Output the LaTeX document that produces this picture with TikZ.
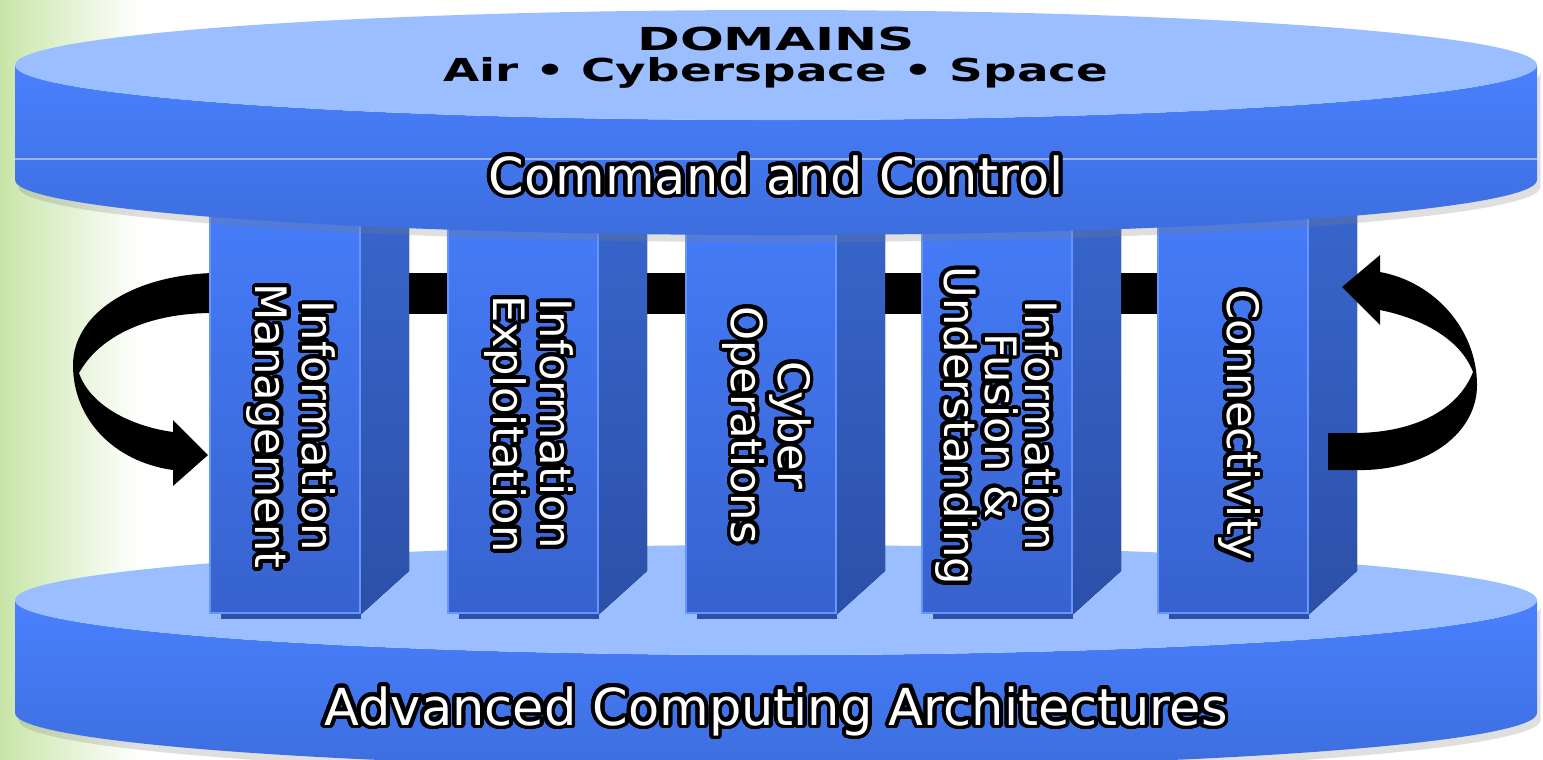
\documentclass[tikz,border=0pt]{standalone}
\usepackage{graphicx}
\usepackage{fontspec}
\setmainfont{DejaVu Sans}
\newfontfamily\domfont{DejaVu Sans}
\usepackage[copies]{contour}
\contourlength{1.1pt}
\contournumber{32}
\usetikzlibrary{positioning, shadows}

\definecolor{diskTop}{RGB}{154,190,255}
\definecolor{diskSideA}{RGB}{74,128,255}
\definecolor{diskSideB}{RGB}{60,110,222}
\definecolor{pillarA}{RGB}{70,125,250}
\definecolor{pillarB}{RGB}{55,98,206}
\definecolor{pillarSideA}{RGB}{56,102,205}
\definecolor{pillarSideB}{RGB}{44,80,168}
\definecolor{pillarEdge}{RGB}{100,150,255}
\definecolor{leafGreen}{RGB}{200,229,168}

\newcommand{\outl}[1]{\contour{black}{#1}}

\tikzset{
  pillar/.style = {rectangle, minimum width=1.5cm, minimum height=4.13cm, inner sep=0pt,
    top color=pillarA, bottom color=pillarB, draw=pillarEdge, line width=0.6pt},
  pillarside/.style = {top color=pillarSideA, bottom color=pillarSideB},
  pillartext/.style = {rotate=-90, align=center, text=white, inner sep=0pt,
    font=\fontsize{12.3}{13.1}\selectfont},
  disktitle/.style = {text=white, inner sep=0pt, font=\fontsize{14.5}{16}\selectfont},
  domaintext/.style = {text=black, inner sep=0pt, font=\domfont\bfseries\fontsize{9}{10}\selectfont},
  diskside/.style = {top color=diskSideA, bottom color=diskSideB,
    drop shadow={opacity=0.25, shadow xshift=1pt, shadow yshift=-2pt}},
  ring/.style = {fill=black}
}

\begin{document}
\begin{tikzpicture}[x=0.01cm, y=-0.01cm]
\useasboundingbox (0,0) rectangle (1543,759);
\shade[left color=leafGreen, right color=white] (0,0) rectangle (140,759);

% base disk
\path[diskside] (15,600) -- (15,713) arc[start angle=180, end angle=0, x radius=761, y radius=55]
  -- (1537,600) arc[start angle=0, end angle=180, x radius=761, y radius=55] -- cycle;
\fill[diskTop] (776,600) ellipse[x radius=761, y radius=55];

% ring behind the pillars
\fill[ring] (210,273) rectangle (1340,314);
\fill[ring] (212,273) .. controls (130,276) and (73,315) .. (73,365)
  .. controls (73,420) and (115,462) .. (173,470) -- (173,486) -- (208,455) -- (173,420)
  -- (173,432) .. controls (130,426) and (90,405) .. (79,373)
  .. controls (100,335) and (150,313) .. (212,313) -- cycle;

% pillars
\foreach \px/\name in {285/pIM, 523/pIE, 761/pCO, 997/pIF, 1233/pCN} {
  \node[pillar] (\name) at (\px,406.5) {};
  \fill[pillarside] (\name.north east) -- ++(48,0) -- ++(0,372) -- (\name.south east) -- cycle;
  \fill[pillarSideB] (\name.south west) ++(12,0) rectangle ++(140,5);
}

\node[pillartext] (tIM) at (289,426) {\outl{Information}\\\outl{Management}};
\node[pillartext] (tIE) at (527,424) {\outl{Information}\\\outl{Exploitation}};
\node[pillartext] (tCO) at (765,425) {\outl{Cyber}\\\outl{Operations}};
\node[pillartext, font=\fontsize{12.3}{10.6}\selectfont] (tIF) at (995,426)
  {\outl{Information}\\\outl{Fusion \&}\\\outl{Understanding}};
\node[pillartext] (tCN) at (1237,425) {\outl{Connectivity}};

% ring in front
\fill[ring] (1328,470) -- (1365,470) .. controls (1430,468) and (1477,432) .. (1477,385)
  .. controls (1477,330) and (1435,282) .. (1380,272) -- (1380,255) -- (1342,287) -- (1380,325)
  -- (1380,310) .. controls (1420,318) and (1460,338) .. (1473,372)
  .. controls (1458,410) and (1415,432) .. (1357,433) -- (1328,433) -- cycle;

% top disk
\path[diskside] (15,65) -- (15,180) arc[start angle=180, end angle=0, x radius=761, y radius=55]
  -- (1537,65) arc[start angle=0, end angle=180, x radius=761, y radius=55] -- cycle;
\draw[white, opacity=0.45, line width=0.4pt] (15,159) -- (1537,159);
\fill[diskTop] (776,65) ellipse[x radius=761, y radius=55];

\node[domaintext, anchor=base] (dom) at (776,50) {\scalebox{1.63}[1]{DOMAINS}};
\node[domaintext, anchor=base] (dlist) at (776,81) {\scalebox{1.48}[1]{Air • Cyberspace • Space}};
\node[disktitle, anchor=base] (c2) at (776,194) {\outl{Command and Control}};
\node[disktitle, anchor=base] (aca) at (776,725) {\outl{Advanced Computing Architectures}};
\end{tikzpicture}
\end{document}
